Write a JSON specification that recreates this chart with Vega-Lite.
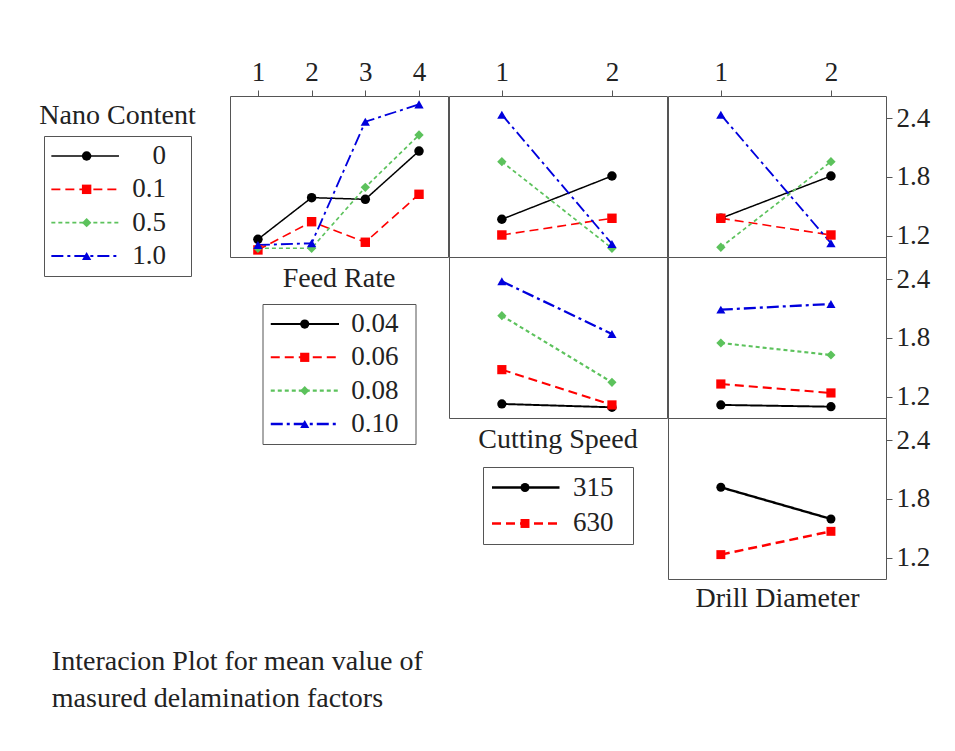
{
  "$schema": "https://vega.github.io/schema/vega-lite/v6.json",
  "padding": {"left": 38, "top": 57, "right": 5, "bottom": 5},
  "background": "white",
  "datasets": {
    "main": [
      {"panel": "A", "x": 1, "y": 1.166, "s": "0"},
      {"panel": "A", "x": 2, "y": 1.590, "s": "0"},
      {"panel": "A", "x": 3, "y": 1.573, "s": "0"},
      {"panel": "A", "x": 4, "y": 2.064, "s": "0"},
      {"panel": "A", "x": 1, "y": 1.058, "s": "0.1"},
      {"panel": "A", "x": 2, "y": 1.345, "s": "0.1"},
      {"panel": "A", "x": 3, "y": 1.136, "s": "0.1"},
      {"panel": "A", "x": 4, "y": 1.624, "s": "0.1"},
      {"panel": "A", "x": 1, "y": 1.075, "s": "0.5"},
      {"panel": "A", "x": 2, "y": 1.075, "s": "0.5"},
      {"panel": "A", "x": 3, "y": 1.695, "s": "0.5"},
      {"panel": "A", "x": 4, "y": 2.227, "s": "0.5"},
      {"panel": "A", "x": 1, "y": 1.108, "s": "1.0"},
      {"panel": "A", "x": 2, "y": 1.126, "s": "1.0"},
      {"panel": "A", "x": 3, "y": 2.362, "s": "1.0"},
      {"panel": "A", "x": 4, "y": 2.539, "s": "1.0"},
      {"panel": "B", "x": 1, "y": 1.370, "s": "0"},
      {"panel": "B", "x": 2, "y": 1.810, "s": "0"},
      {"panel": "B", "x": 1, "y": 1.210, "s": "0.1"},
      {"panel": "B", "x": 2, "y": 1.380, "s": "0.1"},
      {"panel": "B", "x": 1, "y": 1.956, "s": "0.5"},
      {"panel": "B", "x": 2, "y": 1.075, "s": "0.5"},
      {"panel": "B", "x": 1, "y": 2.434, "s": "1.0"},
      {"panel": "B", "x": 2, "y": 1.119, "s": "1.0"},
      {"panel": "C", "x": 1, "y": 1.380, "s": "0"},
      {"panel": "C", "x": 2, "y": 1.810, "s": "0"},
      {"panel": "C", "x": 1, "y": 1.380, "s": "0.1"},
      {"panel": "C", "x": 2, "y": 1.210, "s": "0.1"},
      {"panel": "C", "x": 1, "y": 1.085, "s": "0.5"},
      {"panel": "C", "x": 2, "y": 1.956, "s": "0.5"},
      {"panel": "C", "x": 1, "y": 2.434, "s": "1.0"},
      {"panel": "C", "x": 2, "y": 1.126, "s": "1.0"},
      {"panel": "D", "x": 1, "y": 1.129, "s": "0.04"},
      {"panel": "D", "x": 2, "y": 1.095, "s": "0.04"},
      {"panel": "D", "x": 1, "y": 1.478, "s": "0.06"},
      {"panel": "D", "x": 2, "y": 1.119, "s": "0.06"},
      {"panel": "D", "x": 1, "y": 2.027, "s": "0.08"},
      {"panel": "D", "x": 2, "y": 1.349, "s": "0.08"},
      {"panel": "D", "x": 1, "y": 2.377, "s": "0.10"},
      {"panel": "D", "x": 2, "y": 1.841, "s": "0.10"},
      {"panel": "E", "x": 1, "y": 1.119, "s": "0.04"},
      {"panel": "E", "x": 2, "y": 1.101, "s": "0.04"},
      {"panel": "E", "x": 1, "y": 1.332, "s": "0.06"},
      {"panel": "E", "x": 2, "y": 1.241, "s": "0.06"},
      {"panel": "E", "x": 1, "y": 1.749, "s": "0.08"},
      {"panel": "E", "x": 2, "y": 1.627, "s": "0.08"},
      {"panel": "E", "x": 1, "y": 2.088, "s": "0.10"},
      {"panel": "E", "x": 2, "y": 2.146, "s": "0.10"},
      {"panel": "F", "x": 1, "y": 1.919, "s": "315"},
      {"panel": "F", "x": 2, "y": 1.597, "s": "315"},
      {"panel": "F", "x": 1, "y": 1.234, "s": "630"},
      {"panel": "F", "x": 2, "y": 1.471, "s": "630"}
    ]
  },
  "title": {
    "text": ["Interacion Plot for mean value of", "masured delamination factors"],
    "orient": "bottom", "anchor": "start", "offset": 35, "dx": 13,
    "lineHeight": 37, "fontSize": 28
  },
  "spacing": -2,
  "hconcat": [
    {
      "bounds": "flush",
      "spacing": 0,
      "vconcat": [
        {"width": 147, "height": 40, "data": {"values": [{}]}, "mark": {"type": "point", "opacity": 0}, "view": {"stroke": null}},
        {
          "width": 147, "height": 140,
          "title": {"text": "Nano Content", "offset": 6},
          "data": {"name": "main"},
          "transform": [{"filter": "datum.panel === 'A' && datum.x === 1"}],
          "encoding": {
            "y": {"field": "s", "type": "ordinal", "sort": ["0", "0.1", "0.5", "1.0"], "scale": {"type": "point", "padding": 0.6}, "axis": null}
          },
          "layer": [
            {"mark": {"type": "rule"}, "encoding": {
              "x": {"datum": 0.05, "type": "quantitative", "scale": {"domain": [0, 1], "nice": false}, "axis": null},
              "x2": {"datum": 0.51},
              "color": {"field": "s", "type": "nominal", "legend": null, "scale": {"domain": ["0","0.1","0.5","1.0","0.04","0.06","0.08","0.10","315","630"], "range": ["#000000","#ff0000","#5cc25c","#0000dd","#000000","#ff0000","#5cc25c","#0000dd","#000000","#ff0000"]}},
              "strokeDash": {"field": "s", "type": "nominal", "legend": null, "scale": {"domain": ["0","0.1","0.5","1.0","0.04","0.06","0.08","0.10","315","630"], "range": [[1,0],[9,5],[4,3],[12,4,3,4],[1,0],[9,5],[4,3],[12,4,3,4],[1,0],[9,5]]}},
              "strokeWidth": {"field": "s", "type": "nominal", "legend": null, "scale": {"domain": ["0","0.1","0.5","1.0","0.04","0.06","0.08","0.10","315","630"], "range": [1.5,2.5,2.5,2.5,1.5,2.5,2.5,2.5,1.5,2.5]}}
            }},
            {"mark": {"type": "point", "filled": true, "opacity": 1}, "encoding": {
              "x": {"datum": 0.29, "type": "quantitative"},
              "color": {"field": "s", "type": "nominal", "legend": null, "scale": {"domain": ["0","0.1","0.5","1.0","0.04","0.06","0.08","0.10","315","630"], "range": ["#000000","#ff0000","#5cc25c","#0000dd","#000000","#ff0000","#5cc25c","#0000dd","#000000","#ff0000"]}},
              "shape": {"field": "s", "type": "nominal", "legend": null, "scale": {"domain": ["0","0.1","0.5","1.0","0.04","0.06","0.08","0.10","315","630"], "range": ["circle","square","diamond","triangle-up","circle","square","diamond","triangle-up","circle","square"]}},
              "size": {"field": "s", "type": "nominal", "legend": null, "scale": {"domain": ["0","0.1","0.5","1.0","0.04","0.06","0.08","0.10","315","630"], "range": [90,80,90,110,90,80,90,110,90,80]}}
            }},
            {"mark": {"type": "text", "align": "right", "baseline": "middle", "font": "Liberation Serif", "fontSize": 27, "color": "#222"}, "encoding": {
              "x": {"datum": 0.83, "type": "quantitative"},
              "text": {"field": "s"}
            }}
          ]
        }
      ]
    },
    {"width": 33, "height": 1, "data": {"values": [{}]}, "mark": {"type": "point", "opacity": 0}, "view": {"stroke": null}},
    {
      "bounds": "flush",
      "spacing": 47,
      "center": true,
      "vconcat": [
        {
          "width": 218, "height": 161,
          "data": {"name": "main"},
          "transform": [{"filter": "datum.panel === 'A'"}],
          "encoding": {
            "x": {"field": "x", "type": "quantitative", "scale": {"domain": [0.48, 4.54], "nice": false, "zero": false}, "axis": {"orient": "top", "values": [1, 2, 3, 4], "format": "d", "title": null, "tickSize": 6, "labelPadding": 4}},
            "y": {"field": "y", "type": "quantitative", "scale": {"domain": [0.986, 2.624], "nice": false, "zero": false}, "axis": null},
            "color": {"field": "s", "type": "nominal", "legend": null, "scale": {"domain": ["0","0.1","0.5","1.0","0.04","0.06","0.08","0.10","315","630"], "range": ["#000000","#ff0000","#5cc25c","#0000dd","#000000","#ff0000","#5cc25c","#0000dd","#000000","#ff0000"]}}
          },
          "layer": [
            {"mark": {"type": "line"}, "encoding": {
              "strokeDash": {"field": "s", "type": "nominal", "legend": null, "scale": {"domain": ["0","0.1","0.5","1.0","0.04","0.06","0.08","0.10","315","630"], "range": [[1,0],[9,5],[4,3],[12,4,3,4],[1,0],[9,5],[4,3],[12,4,3,4],[1,0],[9,5]]}},
              "strokeWidth": {"field": "s", "type": "nominal", "legend": null, "scale": {"domain": ["0","0.1","0.5","1.0","0.04","0.06","0.08","0.10","315","630"], "range": [1.5,2.5,2.5,2.5,1.5,2.5,2.5,2.5,1.5,2.5]}}
            }},
            {"mark": {"type": "point", "filled": true, "opacity": 1}, "encoding": {
              "shape": {"field": "s", "type": "nominal", "legend": null, "scale": {"domain": ["0","0.1","0.5","1.0","0.04","0.06","0.08","0.10","315","630"], "range": ["circle","square","diamond","triangle-up","circle","square","diamond","triangle-up","circle","square"]}},
              "size": {"field": "s", "type": "nominal", "legend": null, "scale": {"domain": ["0","0.1","0.5","1.0","0.04","0.06","0.08","0.10","315","630"], "range": [90,80,90,110,90,80,90,110,90,80]}}
            }}
          ]
        },
        {
          "width": 153, "height": 140,
          "title": {"text": "Feed Rate", "offset": 11},
          "data": {"name": "main"},
          "transform": [{"filter": "datum.panel === 'D' && datum.x === 1"}],
          "encoding": {
            "y": {"field": "s", "type": "ordinal", "sort": ["0.04", "0.06", "0.08", "0.10"], "scale": {"type": "point", "padding": 0.6}, "axis": null}
          },
          "layer": [
            {"mark": {"type": "rule"}, "encoding": {
              "x": {"datum": 0.054, "type": "quantitative", "scale": {"domain": [0, 1], "nice": false}, "axis": null},
              "x2": {"datum": 0.5},
              "color": {"field": "s", "type": "nominal", "legend": null, "scale": {"domain": ["0","0.1","0.5","1.0","0.04","0.06","0.08","0.10","315","630"], "range": ["#000000","#ff0000","#5cc25c","#0000dd","#000000","#ff0000","#5cc25c","#0000dd","#000000","#ff0000"]}},
              "strokeDash": {"field": "s", "type": "nominal", "legend": null, "scale": {"domain": ["0","0.1","0.5","1.0","0.04","0.06","0.08","0.10","315","630"], "range": [[1,0],[9,5],[4,3],[12,4,3,4],[1,0],[9,5],[4,3],[12,4,3,4],[1,0],[9,5]]}},
              "strokeWidth": {"field": "s", "type": "nominal", "legend": null, "scale": {"domain": ["0","0.1","0.5","1.0","0.04","0.06","0.08","0.10","315","630"], "range": [1.5,2.5,2.5,2.5,1.5,2.5,2.5,2.5,1.5,2.5]}}
            }},
            {"mark": {"type": "point", "filled": true, "opacity": 1}, "encoding": {
              "x": {"datum": 0.276, "type": "quantitative"},
              "color": {"field": "s", "type": "nominal", "legend": null, "scale": {"domain": ["0","0.1","0.5","1.0","0.04","0.06","0.08","0.10","315","630"], "range": ["#000000","#ff0000","#5cc25c","#0000dd","#000000","#ff0000","#5cc25c","#0000dd","#000000","#ff0000"]}},
              "shape": {"field": "s", "type": "nominal", "legend": null, "scale": {"domain": ["0","0.1","0.5","1.0","0.04","0.06","0.08","0.10","315","630"], "range": ["circle","square","diamond","triangle-up","circle","square","diamond","triangle-up","circle","square"]}},
              "size": {"field": "s", "type": "nominal", "legend": null, "scale": {"domain": ["0","0.1","0.5","1.0","0.04","0.06","0.08","0.10","315","630"], "range": [90,80,90,110,90,80,90,110,90,80]}}
            }},
            {"mark": {"type": "text", "align": "left", "baseline": "middle", "font": "Liberation Serif", "fontSize": 27, "color": "#222"}, "encoding": {
              "x": {"datum": 0.58, "type": "quantitative"},
              "text": {"field": "s"}
            }}
          ]
        }
      ]
    },
    {
      "bounds": "flush",
      "spacing": 0,
      "center": true,
      "vconcat": [
        {
          "width": 218, "height": 161,
          "data": {"name": "main"},
          "transform": [{"filter": "datum.panel === 'B'"}],
          "encoding": {
            "x": {"field": "x", "type": "quantitative", "scale": {"domain": [0.52, 2.5], "nice": false, "zero": false}, "axis": {"orient": "top", "values": [1, 2], "format": "d", "title": null, "tickSize": 6, "labelPadding": 4}},
            "y": {"field": "y", "type": "quantitative", "scale": {"domain": [0.986, 2.624], "nice": false, "zero": false}, "axis": null},
            "color": {"field": "s", "type": "nominal", "legend": null, "scale": {"domain": ["0","0.1","0.5","1.0","0.04","0.06","0.08","0.10","315","630"], "range": ["#000000","#ff0000","#5cc25c","#0000dd","#000000","#ff0000","#5cc25c","#0000dd","#000000","#ff0000"]}}
          },
          "layer": [
            {"mark": {"type": "line"}, "encoding": {
              "strokeDash": {"field": "s", "type": "nominal", "legend": null, "scale": {"domain": ["0","0.1","0.5","1.0","0.04","0.06","0.08","0.10","315","630"], "range": [[1,0],[9,5],[4,3],[12,4,3,4],[1,0],[9,5],[4,3],[12,4,3,4],[1,0],[9,5]]}},
              "strokeWidth": {"field": "s", "type": "nominal", "legend": null, "scale": {"domain": ["0","0.1","0.5","1.0","0.04","0.06","0.08","0.10","315","630"], "range": [1.5,2.5,2.5,2.5,1.5,2.5,2.5,2.5,1.5,2.5]}}
            }},
            {"mark": {"type": "point", "filled": true, "opacity": 1}, "encoding": {
              "shape": {"field": "s", "type": "nominal", "legend": null, "scale": {"domain": ["0","0.1","0.5","1.0","0.04","0.06","0.08","0.10","315","630"], "range": ["circle","square","diamond","triangle-up","circle","square","diamond","triangle-up","circle","square"]}},
              "size": {"field": "s", "type": "nominal", "legend": null, "scale": {"domain": ["0","0.1","0.5","1.0","0.04","0.06","0.08","0.10","315","630"], "range": [90,80,90,110,90,80,90,110,90,80]}}
            }}
          ]
        },
        {
          "width": 218, "height": 161,
          "data": {"name": "main"},
          "transform": [{"filter": "datum.panel === 'D'"}],
          "encoding": {
            "x": {"field": "x", "type": "quantitative", "scale": {"domain": [0.52, 2.5], "nice": false, "zero": false}, "axis": null},
            "y": {"field": "y", "type": "quantitative", "scale": {"domain": [0.986, 2.624], "nice": false, "zero": false}, "axis": null},
            "color": {"field": "s", "type": "nominal", "legend": null, "scale": {"domain": ["0","0.1","0.5","1.0","0.04","0.06","0.08","0.10","315","630"], "range": ["#000000","#ff0000","#5cc25c","#0000dd","#000000","#ff0000","#5cc25c","#0000dd","#000000","#ff0000"]}}
          },
          "layer": [
            {"mark": {"type": "line"}, "encoding": {
              "strokeDash": {"field": "s", "type": "nominal", "legend": null, "scale": {"domain": ["0","0.1","0.5","1.0","0.04","0.06","0.08","0.10","315","630"], "range": [[1,0],[9,5],[4,3],[12,4,3,4],[1,0],[9,5],[4,3],[12,4,3,4],[1,0],[9,5]]}},
              "strokeWidth": {"field": "s", "type": "nominal", "legend": null, "scale": {"domain": ["0","0.1","0.5","1.0","0.04","0.06","0.08","0.10","315","630"], "range": [1.5,2.5,2.5,2.5,1.5,2.5,2.5,2.5,1.5,2.5]}}
            }},
            {"mark": {"type": "point", "filled": true, "opacity": 1}, "encoding": {
              "shape": {"field": "s", "type": "nominal", "legend": null, "scale": {"domain": ["0","0.1","0.5","1.0","0.04","0.06","0.08","0.10","315","630"], "range": ["circle","square","diamond","triangle-up","circle","square","diamond","triangle-up","circle","square"]}},
              "size": {"field": "s", "type": "nominal", "legend": null, "scale": {"domain": ["0","0.1","0.5","1.0","0.04","0.06","0.08","0.10","315","630"], "range": [90,80,90,110,90,80,90,110,90,80]}}
            }}
          ]
        },
        {"width": 10, "height": 49, "data": {"values": [{}]}, "mark": {"type": "point", "opacity": 0}, "view": {"stroke": null}},
        {
          "width": 150, "height": 77,
          "title": {"text": "Cutting Speed", "offset": 13},
          "data": {"name": "main"},
          "transform": [{"filter": "datum.panel === 'F' && datum.x === 1"}],
          "encoding": {
            "y": {"field": "s", "type": "ordinal", "sort": ["315", "630"], "scale": {"type": "point", "padding": 0.57}, "axis": null}
          },
          "layer": [
            {"mark": {"type": "rule"}, "encoding": {
              "x": {"datum": 0.06, "type": "quantitative", "scale": {"domain": [0, 1], "nice": false}, "axis": null},
              "x2": {"datum": 0.51},
              "color": {"field": "s", "type": "nominal", "legend": null, "scale": {"domain": ["0","0.1","0.5","1.0","0.04","0.06","0.08","0.10","315","630"], "range": ["#000000","#ff0000","#5cc25c","#0000dd","#000000","#ff0000","#5cc25c","#0000dd","#000000","#ff0000"]}},
              "strokeDash": {"field": "s", "type": "nominal", "legend": null, "scale": {"domain": ["0","0.1","0.5","1.0","0.04","0.06","0.08","0.10","315","630"], "range": [[1,0],[9,5],[4,3],[12,4,3,4],[1,0],[9,5],[4,3],[12,4,3,4],[1,0],[9,5]]}},
              "strokeWidth": {"field": "s", "type": "nominal", "legend": null, "scale": {"domain": ["0","0.1","0.5","1.0","0.04","0.06","0.08","0.10","315","630"], "range": [1.5,2.5,2.5,2.5,1.5,2.5,2.5,2.5,1.5,2.5]}}
            }},
            {"mark": {"type": "point", "filled": true, "opacity": 1}, "encoding": {
              "x": {"datum": 0.28, "type": "quantitative"},
              "color": {"field": "s", "type": "nominal", "legend": null, "scale": {"domain": ["0","0.1","0.5","1.0","0.04","0.06","0.08","0.10","315","630"], "range": ["#000000","#ff0000","#5cc25c","#0000dd","#000000","#ff0000","#5cc25c","#0000dd","#000000","#ff0000"]}},
              "shape": {"field": "s", "type": "nominal", "legend": null, "scale": {"domain": ["0","0.1","0.5","1.0","0.04","0.06","0.08","0.10","315","630"], "range": ["circle","square","diamond","triangle-up","circle","square","diamond","triangle-up","circle","square"]}},
              "size": {"field": "s", "type": "nominal", "legend": null, "scale": {"domain": ["0","0.1","0.5","1.0","0.04","0.06","0.08","0.10","315","630"], "range": [90,80,90,110,90,80,90,110,90,80]}}
            }},
            {"mark": {"type": "text", "align": "left", "baseline": "middle", "font": "Liberation Serif", "fontSize": 27, "color": "#222"}, "encoding": {
              "x": {"datum": 0.6, "type": "quantitative"},
              "text": {"field": "s"}
            }}
          ]
        }
      ]
    },
    {
      "bounds": "flush",
      "spacing": 0,
      "vconcat": [
        {
          "width": 218, "height": 161,
          "data": {"name": "main"},
          "transform": [{"filter": "datum.panel === 'C'"}],
          "encoding": {
            "x": {"field": "x", "type": "quantitative", "scale": {"domain": [0.52, 2.5], "nice": false, "zero": false}, "axis": {"orient": "top", "values": [1, 2], "format": "d", "title": null, "tickSize": 6, "labelPadding": 4}},
            "y": {"field": "y", "type": "quantitative", "scale": {"domain": [0.986, 2.624], "nice": false, "zero": false}, "axis": {"orient": "right", "values": [1.2, 1.8, 2.4], "format": ".1f", "title": null, "tickSize": 6, "labelPadding": 4}},
            "color": {"field": "s", "type": "nominal", "legend": null, "scale": {"domain": ["0","0.1","0.5","1.0","0.04","0.06","0.08","0.10","315","630"], "range": ["#000000","#ff0000","#5cc25c","#0000dd","#000000","#ff0000","#5cc25c","#0000dd","#000000","#ff0000"]}}
          },
          "layer": [
            {"mark": {"type": "line"}, "encoding": {
              "strokeDash": {"field": "s", "type": "nominal", "legend": null, "scale": {"domain": ["0","0.1","0.5","1.0","0.04","0.06","0.08","0.10","315","630"], "range": [[1,0],[9,5],[4,3],[12,4,3,4],[1,0],[9,5],[4,3],[12,4,3,4],[1,0],[9,5]]}},
              "strokeWidth": {"field": "s", "type": "nominal", "legend": null, "scale": {"domain": ["0","0.1","0.5","1.0","0.04","0.06","0.08","0.10","315","630"], "range": [1.5,2.5,2.5,2.5,1.5,2.5,2.5,2.5,1.5,2.5]}}
            }},
            {"mark": {"type": "point", "filled": true, "opacity": 1}, "encoding": {
              "shape": {"field": "s", "type": "nominal", "legend": null, "scale": {"domain": ["0","0.1","0.5","1.0","0.04","0.06","0.08","0.10","315","630"], "range": ["circle","square","diamond","triangle-up","circle","square","diamond","triangle-up","circle","square"]}},
              "size": {"field": "s", "type": "nominal", "legend": null, "scale": {"domain": ["0","0.1","0.5","1.0","0.04","0.06","0.08","0.10","315","630"], "range": [90,80,90,110,90,80,90,110,90,80]}}
            }}
          ]
        },
        {
          "width": 218, "height": 161,
          "data": {"name": "main"},
          "transform": [{"filter": "datum.panel === 'E'"}],
          "encoding": {
            "x": {"field": "x", "type": "quantitative", "scale": {"domain": [0.52, 2.5], "nice": false, "zero": false}, "axis": null},
            "y": {"field": "y", "type": "quantitative", "scale": {"domain": [0.986, 2.624], "nice": false, "zero": false}, "axis": {"orient": "right", "values": [1.2, 1.8, 2.4], "format": ".1f", "title": null, "tickSize": 6, "labelPadding": 4}},
            "color": {"field": "s", "type": "nominal", "legend": null, "scale": {"domain": ["0","0.1","0.5","1.0","0.04","0.06","0.08","0.10","315","630"], "range": ["#000000","#ff0000","#5cc25c","#0000dd","#000000","#ff0000","#5cc25c","#0000dd","#000000","#ff0000"]}}
          },
          "layer": [
            {"mark": {"type": "line"}, "encoding": {
              "strokeDash": {"field": "s", "type": "nominal", "legend": null, "scale": {"domain": ["0","0.1","0.5","1.0","0.04","0.06","0.08","0.10","315","630"], "range": [[1,0],[9,5],[4,3],[12,4,3,4],[1,0],[9,5],[4,3],[12,4,3,4],[1,0],[9,5]]}},
              "strokeWidth": {"field": "s", "type": "nominal", "legend": null, "scale": {"domain": ["0","0.1","0.5","1.0","0.04","0.06","0.08","0.10","315","630"], "range": [1.5,2.5,2.5,2.5,1.5,2.5,2.5,2.5,1.5,2.5]}}
            }},
            {"mark": {"type": "point", "filled": true, "opacity": 1}, "encoding": {
              "shape": {"field": "s", "type": "nominal", "legend": null, "scale": {"domain": ["0","0.1","0.5","1.0","0.04","0.06","0.08","0.10","315","630"], "range": ["circle","square","diamond","triangle-up","circle","square","diamond","triangle-up","circle","square"]}},
              "size": {"field": "s", "type": "nominal", "legend": null, "scale": {"domain": ["0","0.1","0.5","1.0","0.04","0.06","0.08","0.10","315","630"], "range": [90,80,90,110,90,80,90,110,90,80]}}
            }}
          ]
        },
        {
          "width": 218, "height": 161,
          "data": {"name": "main"},
          "transform": [{"filter": "datum.panel === 'F'"}],
          "encoding": {
            "x": {"field": "x", "type": "quantitative", "scale": {"domain": [0.52, 2.5], "nice": false, "zero": false}, "axis": {"orient": "bottom", "labels": false, "ticks": false, "title": "Drill Diameter", "titlePadding": 5}},
            "y": {"field": "y", "type": "quantitative", "scale": {"domain": [0.986, 2.624], "nice": false, "zero": false}, "axis": {"orient": "right", "values": [1.2, 1.8, 2.4], "format": ".1f", "title": null, "tickSize": 6, "labelPadding": 4}},
            "color": {"field": "s", "type": "nominal", "legend": null, "scale": {"domain": ["0","0.1","0.5","1.0","0.04","0.06","0.08","0.10","315","630"], "range": ["#000000","#ff0000","#5cc25c","#0000dd","#000000","#ff0000","#5cc25c","#0000dd","#000000","#ff0000"]}}
          },
          "layer": [
            {"mark": {"type": "line"}, "encoding": {
              "strokeDash": {"field": "s", "type": "nominal", "legend": null, "scale": {"domain": ["0","0.1","0.5","1.0","0.04","0.06","0.08","0.10","315","630"], "range": [[1,0],[9,5],[4,3],[12,4,3,4],[1,0],[9,5],[4,3],[12,4,3,4],[1,0],[9,5]]}},
              "strokeWidth": {"field": "s", "type": "nominal", "legend": null, "scale": {"domain": ["0","0.1","0.5","1.0","0.04","0.06","0.08","0.10","315","630"], "range": [1.5,2.5,2.5,2.5,1.5,2.5,2.5,2.5,1.5,2.5]}}
            }},
            {"mark": {"type": "point", "filled": true, "opacity": 1}, "encoding": {
              "shape": {"field": "s", "type": "nominal", "legend": null, "scale": {"domain": ["0","0.1","0.5","1.0","0.04","0.06","0.08","0.10","315","630"], "range": ["circle","square","diamond","triangle-up","circle","square","diamond","triangle-up","circle","square"]}},
              "size": {"field": "s", "type": "nominal", "legend": null, "scale": {"domain": ["0","0.1","0.5","1.0","0.04","0.06","0.08","0.10","315","630"], "range": [90,80,90,110,90,80,90,110,90,80]}}
            }}
          ]
        }
      ]
    }
  ],
  "config": {
    "view": {"stroke": "#555", "strokeWidth": 1},
    "axis": {"labelFont": "Liberation Serif", "labelFontSize": 27, "labelColor": "#222", "titleFont": "Liberation Serif", "titleFontSize": 28, "titleFontWeight": "normal", "titleColor": "#222", "tickColor": "#555", "grid": false, "domain": false},
    "title": {"font": "Liberation Serif", "fontSize": 28, "fontWeight": "normal", "color": "#222"}
  }
}
